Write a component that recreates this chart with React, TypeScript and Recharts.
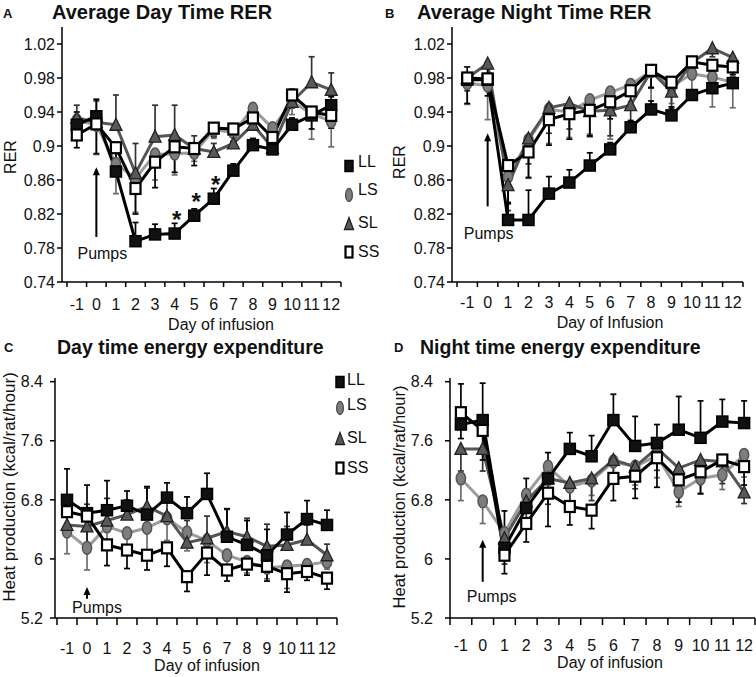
import React from 'react';
import { LineChart, Line, XAxis, YAxis, ErrorBar, ReferenceLine, LabelList } from 'recharts';

const FONT = '"Liberation Sans", Arial, Helvetica, sans-serif';

const DAYS = [-1, 0, 1, 2, 3, 4, 5, 6, 7, 8, 9, 10, 11, 12];
// tick marks sit between the days
const DAY_EDGES = [...DAYS.map((d) => d - 0.5), DAYS[DAYS.length - 1] + 0.5];

const RER_TICKS = [0.74, 0.78, 0.82, 0.86, 0.9, 0.94, 0.98, 1.02];
const HEAT_TICKS = [5.2, 6, 6.8, 7.6, 8.4];

// A - average day time RER
const A_LL = [0.925, 0.935, 0.87, 0.788, 0.796, 0.797, 0.818, 0.838, 0.871, 0.901, 0.896, 0.925, 0.936, 0.948];
const A_LS = [0.93, 0.925, 0.879, 0.862, 0.89, 0.891, 0.892, 0.919, 0.916, 0.944, 0.921, 0.952, 0.938, 0.929];
const A_SL = [0.933, 0.928, 0.925, 0.868, 0.911, 0.913, 0.897, 0.893, 0.903, 0.925, 0.898, 0.952, 0.975, 0.966];
const A_SS = [0.913, 0.926, 0.898, 0.85, 0.881, 0.899, 0.897, 0.921, 0.92, 0.933, 0.91, 0.96, 0.94, 0.936];
const A_LL_E = [0.015, 0.02, 0.025, 0.022, 0.012, 0.012, 0.008, 0.012, 0.008, 0.008, 0.005, 0.008, 0.01, 0.01];
const A_LS_E = [0.02, 0.035, 0.035, 0.04, 0.03, 0.025, 0.01, 0.01, 0.01, 0.015, 0.005, 0.015, 0.03, 0.03];
const A_SL_E = [0.015, 0.025, 0.035, 0.035, 0.037, 0.035, 0.015, 0.01, 0.01, 0.015, 0.01, 0.015, 0.03, 0.02];
const A_SS_E = [0.015, 0.035, 0.02, 0.03, 0.03, 0.03, 0.02, 0.01, 0.015, 0.01, 0.01, 0.015, 0.02, 0.015];
const A_SIG = ['', '', '', '', '', '*', '*', '*', '', '', '', '', '', ''];

// B - average night time RER
const B_LL = [0.978, 0.978, 0.813, 0.813, 0.844, 0.857, 0.877, 0.896, 0.922, 0.943, 0.936, 0.96, 0.968, 0.974];
const B_LS = [0.974, 0.971, 0.864, 0.907, 0.943, 0.94, 0.954, 0.963, 0.972, 0.988, 0.97, 0.985, 0.981, 0.975];
const B_SL = [0.98, 0.997, 0.854, 0.909, 0.945, 0.95, 0.941, 0.942, 0.948, 0.988, 0.964, 0.998, 1.015, 1.004];
const B_SS = [0.98, 0.979, 0.877, 0.893, 0.931, 0.938, 0.942, 0.952, 0.965, 0.989, 0.975, 0.999, 0.995, 0.993];
const B_LL_E = [0.015, 0.02, 0.02, 0.035, 0.02, 0.015, 0.015, 0.008, 0.008, 0.01, 0.01, 0.006, 0.01, 0.01];
const B_LS_E = [0.025, 0.04, 0.03, 0.045, 0.04, 0.03, 0.04, 0.055, 0.02, 0.05, 0.02, 0.03, 0.035, 0.03];
const B_SL_E = [0.015, 0.02, 0.03, 0.03, 0.03, 0.03, 0.03, 0.03, 0.03, 0.02, 0.02, 0.01, 0.01, 0.01];
const B_SS_E = [0.03, 0.02, 0.045, 0.03, 0.03, 0.03, 0.03, 0.02, 0.02, 0.02, 0.01, 0.01, 0.02, 0.02];

// C - day time energy expenditure
const C_LL = [6.8, 6.62, 6.66, 6.72, 6.6, 6.83, 6.62, 6.88, 6.3, 6.19, 6.05, 6.33, 6.54, 6.46];
const C_LS = [6.37, 6.15, 6.44, 6.35, 6.42, 6.55, 6.36, 6.25, 6.05, 5.96, 5.88, 5.9, 5.92, 5.96];
const C_SL = [6.46, 6.44, 6.52, 6.6, 6.71, 6.58, 6.22, 6.28, 6.37, 6.3, 6.17, 6.19, 6.26, 6.05];
const C_SS = [6.64, 6.58, 6.19, 6.12, 6.05, 6.15, 5.76, 6.08, 5.85, 5.93, 5.9, 5.8, 5.83, 5.74];
const C_LL_E = [0.42, 0.38, 0.4, 0.2, 0.38, 0.2, 0.22, 0.28, 0.38, 0.33, 0.35, 0.3, 0.25, 0.2];
const C_LS_E = [0.3, 0.3, 0.25, 0.25, 0.3, 0.3, 0.25, 0.3, 0.15, 0.15, 0.15, 0.3, 0.1, 0.1];
const C_SL_E = [0.25, 0.3, 0.3, 0.2, 0.25, 0.3, 0.3, 0.3, 0.3, 0.25, 0.3, 0.25, 0.2, 0.15];
const C_SS_E = [0.3, 0.4, 0.28, 0.25, 0.2, 0.25, 0.2, 0.3, 0.15, 0.15, 0.2, 0.25, 0.12, 0.15];

// D - night time energy expenditure
const D_LL = [7.82, 7.88, 6.15, 6.69, 7.09, 7.49, 7.39, 7.88, 7.53, 7.57, 7.75, 7.64, 7.86, 7.84];
const D_LS = [7.09, 6.78, 6.35, 6.87, 7.25, 6.98, 7.06, 7.32, 7.25, 7.4, 6.91, 7.09, 7.14, 7.41];
const D_SL = [7.49, 7.49, 6.28, 6.78, 7.09, 7.03, 7.09, 7.34, 7.25, 7.5, 7.23, 7.34, 7.32, 6.9];
const D_SS = [7.98, 7.74, 6.05, 6.48, 6.89, 6.71, 6.66, 7.09, 7.12, 7.37, 7.07, 7.18, 7.34, 7.25];
const D_LL_E = [0.55, 0.5, 0.5, 0.4, 0.35, 0.22, 0.28, 0.35, 0.4, 0.25, 0.45, 0.5, 0.3, 0.3];
const D_LS_E = [0.3, 0.3, 0.3, 0.25, 0.25, 0.2, 0.2, 0.25, 0.25, 0.3, 0.2, 0.2, 0.2, 0.3];
const D_SL_E = [0.3, 0.3, 0.35, 0.3, 0.35, 0.3, 0.3, 0.3, 0.3, 0.3, 0.35, 0.3, 0.3, 0.15];
const D_SS_E = [0.35, 0.4, 0.25, 0.25, 0.45, 0.25, 0.25, 0.3, 0.3, 0.4, 0.3, 0.3, 0.2, 0.25];

const GROUPS = ['LS', 'SL', 'LL', 'SS']; // draw order, SS on top
const LEGEND_ORDER = ['LL', 'LS', 'SL', 'SS'];

const STYLE: Record<string, { line: string; err: string }> = {
  LL: { line: '#000', err: '#000' },
  LS: { line: '#9c9c9c', err: '#6e6e6e' },
  SL: { line: '#555', err: '#333' },
  SS: { line: '#000', err: '#000' },
};

// which side of the mean each group's error bar is drawn on
type Sides = Record<string, 'up' | 'down'>;
const SIDES_A: Sides = { LL: 'up', LS: 'down', SL: 'up', SS: 'down' };
const SIDES_B: Sides = { LL: 'up', LS: 'down', SL: 'down', SS: 'down' };
const SIDES_C: Sides = { LL: 'up', LS: 'down', SL: 'up', SS: 'down' };
const SIDES_D: Sides = { LL: 'up', LS: 'down', SL: 'down', SS: 'down' };

const bar = (e: number, side: 'up' | 'down') => (side === 'up' ? [0, e] : [e, 0]);

function buildRows(
  ll: number[], ls: number[], sl: number[], ss: number[],
  llE: number[], lsE: number[], slE: number[], ssE: number[], sides: Sides, sig?: string[]
) {
  return DAYS.map((day, i) => ({
    day,
    LL: ll[i], LS: ls[i], SL: sl[i], SS: ss[i],
    LLe: bar(llE[i], sides.LL), LSe: bar(lsE[i], sides.LS),
    SLe: bar(slE[i], sides.SL), SSe: bar(ssE[i], sides.SS),
    sig: sig ? sig[i] : '',
  }));
}

function Marker({ kind, cx, cy, w = 11, h = 11 }: { kind: string; cx: number; cy: number; w?: number; h?: number }) {
  if (kind === 'LL') {
    return <rect x={cx - w / 2} y={cy - h / 2} width={w} height={h} fill="#111" stroke="#000" strokeWidth={1.5} />;
  }
  if (kind === 'LS') {
    return <ellipse cx={cx} cy={cy} rx={w * 0.42} ry={h * 0.58} fill="#7d7d7d" stroke="#555" strokeWidth={1.5} />;
  }
  if (kind === 'SL') {
    const pts = `${cx},${cy - h / 2 - 1} ${cx - w / 2 - 0.5},${cy + h / 2} ${cx + w / 2 + 0.5},${cy + h / 2}`;
    return <polygon points={pts} fill="#595959" stroke="#222" strokeWidth={1.3} />;
  }
  return <rect x={cx - w / 2 + 0.5} y={cy - h / 2} width={w - 1} height={h} fill="#fff" stroke="#000" strokeWidth={2.2} />;
}

const dotFor = (kind: string) => (p: any) => (
  <Marker key={`${kind}-${p.index}`} kind={kind} cx={p.cx} cy={p.cy} />
);

const renderStar = (p: any) =>
  p.value ? (
    <text x={p.x + 2} y={p.y - 6} textAnchor="middle" fontSize={24} fontWeight="bold" fontFamily={FONT} fill="#111">
      {p.value}
    </text>
  ) : (
    <g />
  );

type Pump = { low: number; high: number; dx: number; dy: number };

type PanelProps = {
  left: number; top: number; width: number; height: number;
  margin: { top: number; right: number; bottom: number; left: number };
  yWidth: number; xHeight: number; xPad: number;
  domain: [number, number]; ticks: number[];
  yTickMargin: number; tickLen: number; labelDy: number;
  rows: any[]; pump: Pump; stars?: boolean;
};

function Panel(props: PanelProps) {
  const { left, top, width, height, margin, yWidth, xHeight, xPad, domain, ticks, yTickMargin, tickLen, labelDy, rows, pump, stars } = props;
  const band = (width - margin.left - margin.right - yWidth - xPad) / DAYS.length;

  const renderTick = (p: any) => {
    const idx = DAY_EDGES.indexOf(p.payload.value);
    const label = DAYS[idx];
    return (
      <g>
        <line x1={p.x} y1={p.y} x2={p.x} y2={p.y + tickLen} stroke="#000" strokeWidth={1.5} />
        {label !== undefined && (
          <text x={p.x + band / 2} y={p.y + labelDy} textAnchor="middle" fontSize={16} fontFamily={FONT} fill="#111">
            {label}
          </text>
        )}
      </g>
    );
  };

  const renderPump = (p: any) => {
    const x = p.x1;
    const yTop = Math.min(p.y1, p.y2);
    const yBot = Math.max(p.y1, p.y2);
    return (
      <g>
        <line x1={x} y1={yBot} x2={x} y2={yTop + 6} stroke="#000" strokeWidth={2} />
        <polygon points={`${x - 3.5},${yTop + 8} ${x + 3.5},${yTop + 8} ${x},${yTop}`} fill="#000" />
        <text x={x + pump.dx} y={yBot + pump.dy} textAnchor="middle" fontSize={16} fontFamily={FONT} fill="#111">
          Pumps
        </text>
      </g>
    );
  };

  return (
    <div style={{ position: 'absolute', left, top, width, height }}>
      <LineChart width={width} height={height} data={rows} margin={margin}>
        <XAxis
          type="number"
          dataKey="day"
          domain={[DAY_EDGES[0], DAY_EDGES[DAY_EDGES.length - 1]]}
          ticks={DAY_EDGES}
          interval={0}
          allowDataOverflow
          padding={{ left: xPad, right: 0 }}
          height={xHeight}
          tickSize={0}
          tickMargin={0}
          tickLine={false}
          axisLine={{ stroke: '#000', strokeWidth: 1.5 }}
          tick={renderTick}
        />
        <YAxis
          type="number"
          domain={domain}
          ticks={ticks}
          interval={0}
          allowDataOverflow
          width={yWidth}
          tickSize={5}
          tickMargin={yTickMargin}
          axisLine={{ stroke: '#000', strokeWidth: 1.5 }}
          tickLine={{ stroke: '#000', strokeWidth: 1.5 }}
          tick={{ fontSize: 16, fill: '#111', fontFamily: FONT }}
        />
        <ReferenceLine
          segment={[{ x: 0, y: pump.low }, { x: 0, y: pump.high }]}
          ifOverflow="visible"
          shape={renderPump}
        />
        {GROUPS.map((g) => (
          <Line
            key={g}
            type="linear"
            dataKey={g}
            stroke={STYLE[g].line}
            strokeWidth={3}
            dot={dotFor(g)}
            activeDot={false}
            isAnimationActive={false}
          >
            <ErrorBar dataKey={`${g}e`} direction="y" width={3} strokeWidth={1.7} stroke={STYLE[g].err} isAnimationActive={false} />
            {stars && g === 'LL' && <LabelList dataKey="sig" content={renderStar} />}
          </Line>
        ))}
      </LineChart>
    </div>
  );
}

function LegendBlock({ x, textX, rows }: { x: number; textX: number; rows: { my: number; ty: number }[] }) {
  return (
    <g>
      {LEGEND_ORDER.map((k, i) => (
        <g key={k}>
          <Marker kind={k} cx={x} cy={rows[i].my} w={8} h={11} />
          <text x={textX} y={rows[i].ty} fontSize={16} fontFamily={FONT} fill="#111">
            {k}
          </text>
        </g>
      ))}
    </g>
  );
}

const ROWS_A = buildRows(A_LL, A_LS, A_SL, A_SS, A_LL_E, A_LS_E, A_SL_E, A_SS_E, SIDES_A, A_SIG);
const ROWS_B = buildRows(B_LL, B_LS, B_SL, B_SS, B_LL_E, B_LS_E, B_SL_E, B_SS_E, SIDES_B);
const ROWS_C = buildRows(C_LL, C_LS, C_SL, C_SS, C_LL_E, C_LS_E, C_SL_E, C_SS_E, SIDES_C);
const ROWS_D = buildRows(D_LL, D_LS, D_SL, D_SS, D_LL_E, D_LS_E, D_SL_E, D_SS_E, SIDES_D);

export default function App() {
  return (
    <div style={{ position: 'absolute', left: 0, top: 0, width: 756, height: 677, background: '#fff', fontFamily: FONT }}>
      <Panel
        left={0} top={0} width={370} height={335}
        margin={{ top: 27, right: 29, bottom: 13, left: 0 }}
        yWidth={62} xHeight={40} xPad={5}
        domain={[0.74, 1.04]} ticks={RER_TICKS}
        yTickMargin={2} tickLen={5} labelDy={27.5}
        rows={ROWS_A} pump={{ low: 0.793, high: 0.875, dx: 6, dy: 22 }} stars
      />
      <Panel
        left={370} top={0} width={386} height={335}
        margin={{ top: 27, right: 13, bottom: 13, left: 0 }}
        yWidth={82} xHeight={40} xPad={5}
        domain={[0.74, 1.04]} ticks={RER_TICKS}
        yTickMargin={2} tickLen={5} labelDy={26}
        rows={ROWS_B} pump={{ low: 0.829, high: 0.915, dx: 1, dy: 33 }}
      />
      <Panel
        left={0} top={335} width={370} height={342}
        margin={{ top: 43, right: 33, bottom: 14, left: 0 }}
        yWidth={55} xHeight={45} xPad={2}
        domain={[5.2, 8.45]} ticks={HEAT_TICKS}
        yTickMargin={7} tickLen={7} labelDy={36}
        rows={ROWS_C} pump={{ low: 5.46, high: 5.62, dx: 10, dy: 14 }}
      />
      <Panel
        left={370} top={335} width={386} height={342}
        margin={{ top: 43, right: 1, bottom: 14, left: 0 }}
        yWidth={80} xHeight={45} xPad={0}
        domain={[5.2, 8.45]} ticks={HEAT_TICKS}
        yTickMargin={12} tickLen={7} labelDy={33}
        rows={ROWS_D} pump={{ low: 5.69, high: 6.26, dx: 9, dy: 20 }}
      />
      <svg width={756} height={677} style={{ position: 'absolute', left: 0, top: 0, pointerEvents: 'none' }}>
        <g fontFamily={FONT} fill="#111">
          <text x={3} y={17.5} fontSize={13} fontWeight="bold">A</text>
          <text x={52} y={18.5} fontSize={20} fontWeight="bold">Average Day Time RER</text>
          <text x={385} y={17.5} fontSize={13} fontWeight="bold">B</text>
          <text x={417} y={18.5} fontSize={20} fontWeight="bold">Average Night Time RER</text>
          <text x={4} y={352} fontSize={13} fontWeight="bold">C</text>
          <text x={57} y={353.5} fontSize={19.5} fontWeight="bold">Day time energy expenditure</text>
          <text x={394} y={352} fontSize={13} fontWeight="bold">D</text>
          <text x={420} y={353.5} fontSize={19.5} fontWeight="bold">Night time energy expenditure</text>

          <text x={221} y={330} fontSize={16} textAnchor="middle">Day of infusion</text>
          <text x={610} y={328} fontSize={16} textAnchor="middle">Day of Infusion</text>
          <text x={207} y={671} fontSize={16} textAnchor="middle">Day of infusion</text>
          <text x={610} y={668} fontSize={16} textAnchor="middle">Day of infusion</text>

          <text transform="translate(16,157) rotate(-90)" fontSize={16} textAnchor="middle">RER</text>
          <text transform="translate(405,162) rotate(-90)" fontSize={16} textAnchor="middle">RER</text>
          <text transform="translate(15,487) rotate(-90)" fontSize={17} textAnchor="middle">Heat production (kcal/rat/hour)</text>
          <text transform="translate(405,497) rotate(-90)" fontSize={16.5} textAnchor="middle">Heat production (kcal/rat/hour)</text>
        </g>
        <LegendBlock
          x={349} textX={358}
          rows={[{ my: 166, ty: 167 }, { my: 195, ty: 195 }, { my: 224, ty: 228 }, { my: 252, ty: 257 }]}
        />
        <LegendBlock
          x={340} textX={347}
          rows={[{ my: 382, ty: 385 }, { my: 408, ty: 410 }, { my: 439, ty: 443 }, { my: 468, ty: 473 }]}
        />
      </svg>
    </div>
  );
}
